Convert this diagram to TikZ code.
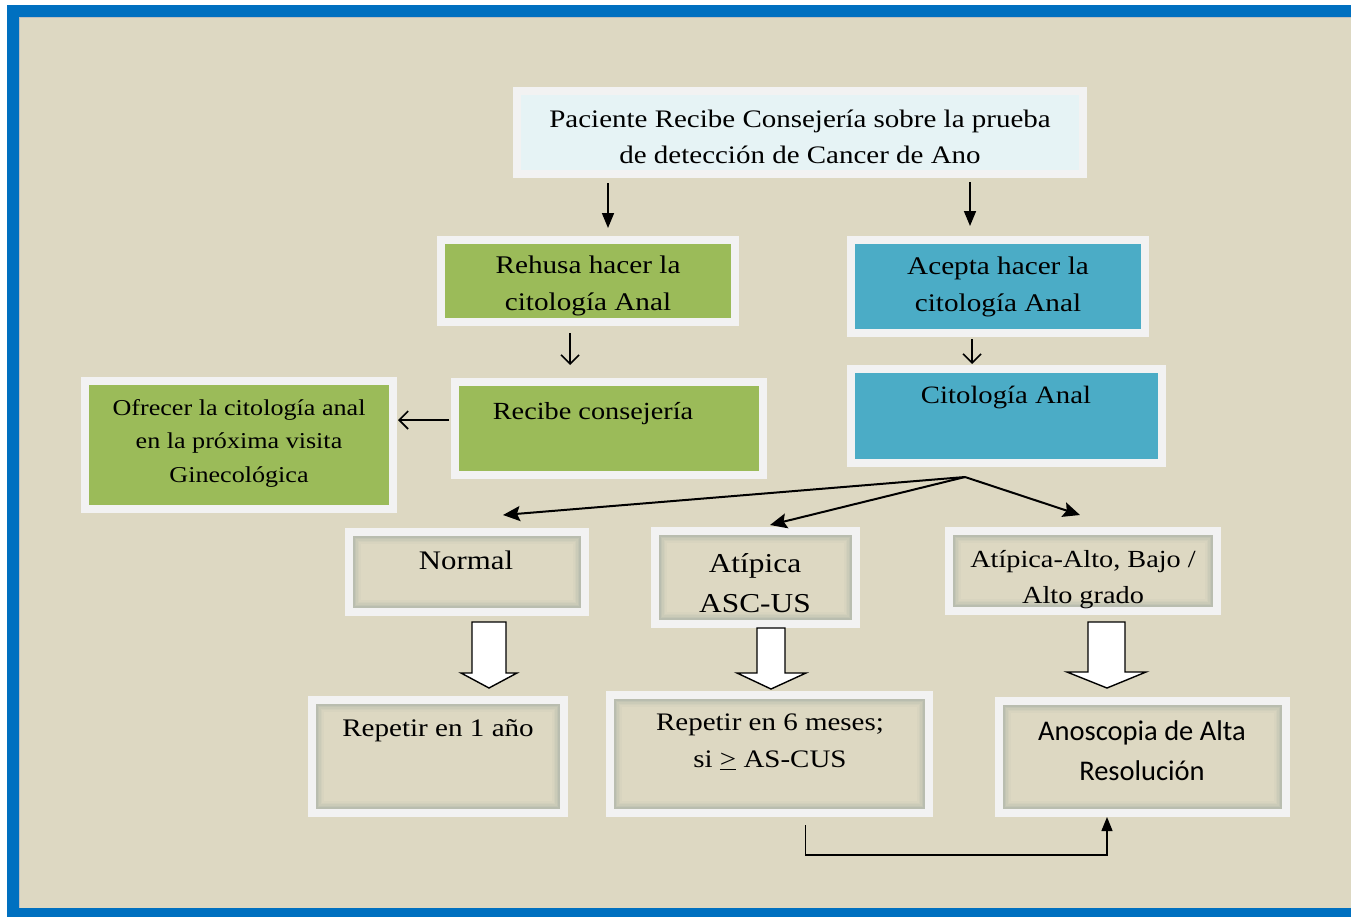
\documentclass[tikz,border=0pt]{standalone}
\usepackage{fontspec}
\setmainfont{Liberation Serif}[FakeStretch=1.15]
\newfontfamily\calibrifont{Carlito}
\usetikzlibrary{arrows.meta,calc,fit,shadows}
\definecolor{frameblue}{HTML}{0070C0}
\definecolor{beige}{HTML}{DDD8C2}
\definecolor{boxframe}{HTML}{F2F2F2}
\definecolor{topfill}{HTML}{E6F3F5}
\definecolor{greenfill}{HTML}{9BBB59}
\definecolor{tealfill}{HTML}{4BACC6}
\definecolor{innershade}{HTML}{8E9E98}
\newcommand\fs[2]{\fontsize{#1}{#2}\selectfont}
\tikzset{
  box/.style={draw=boxframe, line width=8pt, inner sep=-4pt,
    drop shadow={shadow xshift=3pt, shadow yshift=-4pt, opacity=0.3, fill=black!70}},
  txt/.style={align=center, inner sep=0pt, font=\fs{25}{36}},
  thinarrow/.style={draw=black, line width=1.6pt, -{Triangle[length=15pt,width=12pt]}},
  openarrow/.style={draw=black, line width=1.6pt, -{Straight Barb[length=9pt,width=18pt,line width=1.6pt]}},
  diagarrow/.style={draw=black, line width=2pt, -{Stealth[length=17pt,width=15pt,inset=3pt]}},
  blockarrow/.style={draw=black, line width=1.4pt, fill=white, line join=miter},
  elbow/.style={draw=black, line width=1.4pt, -{Triangle[length=14pt,width=11pt]}},
}
\newcommand\innershadow[1]{%
  \foreach \d/\o in {0/0.45,1.5/0.32,3/0.22,4.5/0.13,6/0.06}{%
    \draw[innershade, opacity=\o, line width=1.6pt]
      ($(#1.north west)+(9+\d,9+\d)$) rectangle ($(#1.south east)+(-9-\d,-9-\d)$);}}
\begin{document}
\begin{tikzpicture}[x=1pt,y=-1pt]
\useasboundingbox (0,0) rectangle (1351,916);
% frame
\fill[white] (0,0) rectangle (1351,916);
\fill[frameblue] (7,5) rectangle (1380,930);
\fill[beige] (19,17) rectangle (1351,908);
\draw[black!25, line width=0.6pt] (19,908) -- (19,17) -- (1351,17);

% boxes
\node[box, fill=topfill, fit={(513,87)(1087,178)}] (top) {};
\node[box, fill=greenfill, fit={(437,236)(739,326)}] (rehusa) {};
\node[box, fill=tealfill, fit={(847,236)(1149,337)}] (acepta) {};
\node[box, fill=greenfill, fit={(451,378)(767,479)}] (recibe) {};
\node[box, fill=greenfill, fit={(81,377)(397,513)}] (ofrecer) {};
\node[box, fill=tealfill, fit={(847,365)(1166,467)}] (cito) {};
\node[box, fill=beige, fit={(345,528)(589,616)}] (normal) {};
\node[box, fill=beige, fit={(651,527)(860,628)}] (ascus) {};
\node[box, fill=beige, fit={(945,527)(1221,615)}] (alto) {};
\node[box, fill=beige, fit={(308,696)(568,817)}] (rep1) {};
\node[box, fill=beige, fit={(606,691)(933,817)}] (rep6) {};
\node[box, fill=beige, fit={(995,697)(1290,817)}] (anos) {};
\innershadow{normal}\innershadow{ascus}\innershadow{alto}
\innershadow{rep1}\innershadow{rep6}\innershadow{anos}

% texts
\node[txt, font=\fs{25.2}{36}] (ttop) at (800,137) {Paciente Recibe Consejería sobre la prueba\\de detección de Cancer de Ano};
\node[txt, font=\fs{25.4}{37}] (trehusa) at (588,286) {Rehusa hacer la\\citología Anal};
\node[txt, font=\fs{25.4}{37}] (tacepta) at (998,287) {Acepta hacer la\\citología Anal};
\node[txt, font=\fs{24.6}{36}, anchor=base] (trecibe) at (593,419) {Recibe consejería};
\node[txt, font=\fs{22.7}{33.5}] (tofrecer) at (239,443) {Ofrecer la citología anal\\en la próxima visita\\Ginecológica};
\node[txt, font=\fs{25}{36}, anchor=base] (tcito) at (1006,403) {Citología Anal};
\node[txt, font=\fs{26.8}{36}, anchor=base] (tnormal) at (466,569) {Normal};
\node[txt, font=\fs{27.3}{40}] (tascus) at (755,583) {Atípica\\ASC-US};
\node[txt, font=\fs{24.6}{36}] (talto) at (1083,579.5) {Atípica-Alto, Bajo /\\Alto grado};
\node[txt, font=\fs{25.3}{36}, anchor=base] (trep1) at (438,736) {Repetir en 1 año};
\node[txt, font=\fs{25.2}{37}] (trep6) at (770,742) {Repetir en 6 meses;\\si \underline{>} AS-CUS};
\node[txt, font=\calibrifont\fs{28.5}{40}] (tanos) at (1142,751) {Anoscopia de Alta\\Resolución};

% arrows
\draw[thinarrow] ($(top.south)+(-192,5)$) -- ($(rehusa.north)+(20,-8)$);
\draw[thinarrow] ($(top.south)+(170,4)$) -- ($(acepta.north)+(-28,-10)$);
\draw[openarrow] ($(rehusa.south)+(-18,7)$) -- ($(recibe.north)+(-39,-13)$);
\draw[openarrow] ($(acepta.south)+(-26,2)$) -- ($(cito.north)+(-34.5,-1)$);
\draw[openarrow] ($(recibe.west)+(-2,-8.5)$) -- ($(ofrecer.east)+(1,-25)$);
\coordinate (split) at (965,477);
\coordinate (endN) at (503,515);
\coordinate (endA) at (770,525);
\coordinate (endH) at (1080,515);
\draw[diagarrow] (split) -- (endN);
\draw[diagarrow] (split) -- (endA);
\draw[diagarrow] (split) -- (endH);

% block arrows
\draw[blockarrow] (472,622) -- (506,622) -- (506,673) -- (517,673) -- (489,688) -- (461,673) -- (472,673) -- cycle;
\draw[blockarrow] (757,628) -- (785,628) -- (785,673) -- (806,673) -- (771,689) -- (737,673) -- (757,673) -- cycle;
\draw[blockarrow] (1088,622) -- (1125,622) -- (1125,672) -- (1146,672) -- (1107,688) -- (1067,672) -- (1088,672) -- cycle;

% elbow
\draw[elbow] ($(rep6.south)+(36,8)$) |- (806,855) -| ($(anos.south)+(-35.5,0)$);
\end{tikzpicture}
\end{document}
